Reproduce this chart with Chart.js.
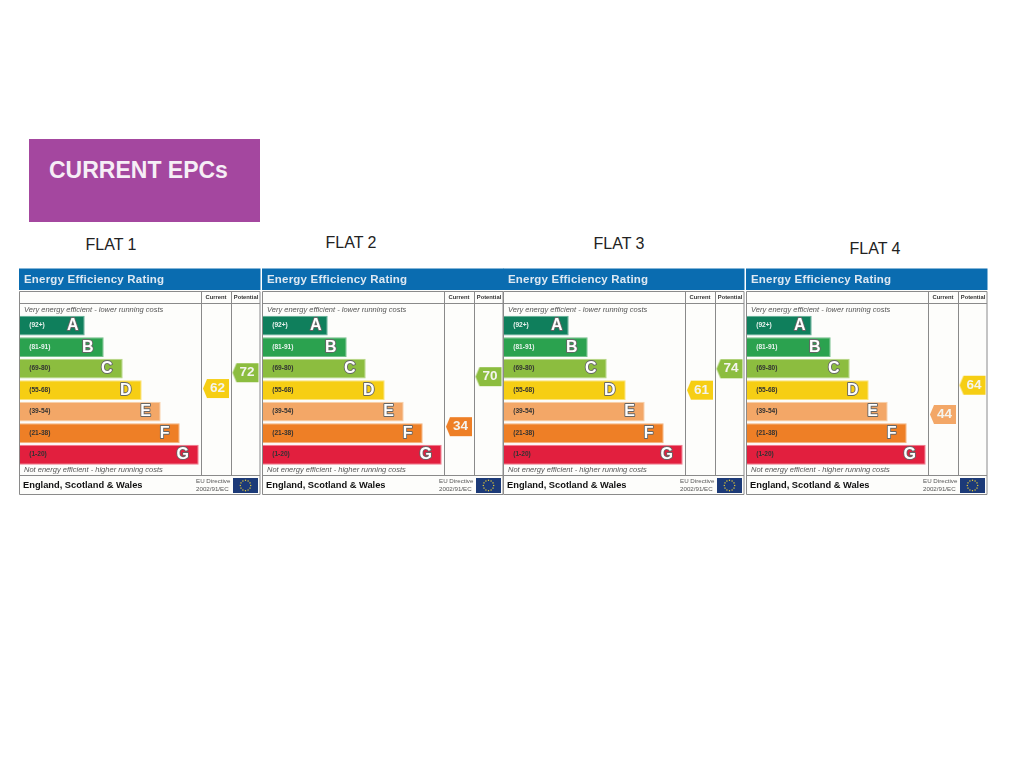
<!DOCTYPE html>
<html><head><meta charset="utf-8">
<style>
html,body{margin:0;padding:0;background:#fff;width:1024px;height:777px;overflow:hidden;font-family:"Liberation Sans",Arial,sans-serif}
#title{position:absolute;left:29px;top:139px;width:231px;height:83px;background:#a4479f;color:#f6eef6;font-weight:bold;font-size:23px;line-height:62px;padding-left:20px;box-sizing:border-box}
.flat{position:absolute;font-size:16px;color:#222;transform:translate(-50%,-50%);white-space:nowrap}
canvas{position:absolute}
</style>
<script src="https://cdn.jsdelivr.net/npm/chart.js@4/dist/chart.umd.min.js"></script>
</head><body>
<div id="title">CURRENT EPCs</div>
<script>
const flats = ["FLAT 1","FLAT 2","FLAT 3","FLAT 4"];
const bandRanges = ["(92+)","(81-91)","(69-80)","(55-68)","(39-54)","(21-38)","(1-20)"];
const bandLetters = ["A","B","C","D","E","F","G"];
const bandLengths = [65,84,103,122,141,160,179];
const bandTops = [100,91,80,68,54,38,20];
const bandBottoms = [92,81,69,55,39,21,1];
const bandColors = ["#0f7f5c","#2ba24f","#8cbd3f","#f6ce14","#f3a767","#ee7f26","#e21f3e"];
const bandEdges = ["#5fae93","#74c08a","#b5d585","#fae37a","#f8cfa8","#f5b27c","#ef7a8c"];
const rangeTextColors = ["#e8f2ee","#e8f2ee","#333","#333","#333","#333","#333"];
const letterInsets = [12,16,16,16,15,15,16];
const currentScores = [62,34,61,44];
const potentialScores = [72,70,74,64];

const flatLabelPos = [[111,245],[351,242.5],[619,243.5],[875,249]];
const panelLeft = [19,262,503,746];
const panelDy = [0,0,0.6,0];
const PW = 242, PH = 228, PTOP = 267.5;
const rowsTop = 314.4, rowsBottom = 465;
const COL_CUR = 196.3, COL_POT = 225.8; // x-units of the two score columns
const LINE = "#8a8a8a";

flats.forEach((t,i)=>{
  const d=document.createElement('div');d.className='flat';d.textContent=t;
  d.style.left=flatLabelPos[i][0]+'px';d.style.top=flatLabelPos[i][1]+'px';
  document.body.appendChild(d);
});

function bandIndex(score){ return bandTops.findIndex((top,k)=>score>=bandBottoms[k]&&score<=top); }
function rowPosition(score){
  const k=bandIndex(score);
  const frac=(bandTops[k]-score)/(bandTops[k]-bandBottoms[k]);
  return k-0.5+frac;
}
function arrowImage(score){
  const c=document.createElement('canvas');c.width=28;c.height=21;
  const g=c.getContext('2d');
  g.fillStyle=bandColors[bandIndex(score)];
  g.beginPath();g.moveTo(1,10.5);g.lineTo(5,1);g.lineTo(27,1);g.lineTo(27,20);g.lineTo(5,20);g.closePath();g.fill();
  return c;
}
const frame={id:'frame',beforeDraw(ch){
  const g=ch.ctx,W=PW;
  g.save();
  g.fillStyle='#fdfdfb';g.fillRect(0.5,22,W-2,205);
  g.fillStyle='#0a6cb0';g.fillRect(0,0.5,W-0.5,21.5);
  g.fillStyle='#dfe9f2';g.font='bold 11.5px "Liberation Sans"';g.textAlign='left';g.textBaseline='middle';
  g.letterSpacing='0.2px';g.fillText('Energy Efficiency Rating',5,11.5);g.letterSpacing='0px';
  g.strokeStyle=LINE;g.lineWidth=1;g.beginPath();
  [[0.5,23.5,W-1,23.5],[0.5,35.5,W-1,35.5],[0.5,207.5,W-1,207.5],[0.5,226.5,W-1,226.5],
   [0.5,23.5,0.5,226.5],[W-1,23.5,W-1,226.5],[182.5,23.5,182.5,207.5],[212.5,23.5,212.5,207.5]]
   .forEach(l=>{g.moveTo(l[0],l[1]);g.lineTo(l[2],l[3]);});
  g.stroke();
  g.fillStyle='#333';g.font='bold 5.8px "Liberation Sans"';g.textAlign='center';
  g.fillText('Current',197,29.8);g.fillText('Potential',227,29.8);
  g.fillStyle='#555';g.font='italic 7.5px "Liberation Sans"';g.textAlign='left';
  g.fillText('Very energy efficient - lower running costs',5,41.5);
  g.fillText('Not energy efficient - higher running costs',5,201.5);
  g.fillStyle='#111';g.font='bold 9.3px "Liberation Sans"';
  g.fillText('England, Scotland & Wales',4,217.5);
  g.fillStyle='#555';g.font='6.2px "Liberation Sans"';
  g.fillText('EU Directive',177,213.5);g.fillText('2002/91/EC',177,221);
  g.fillStyle='#1c3a78';g.fillRect(214,210,25,15);
  g.fillStyle='#f0d432';
  for(let s=0;s<12;s++){const a=s*Math.PI/6;g.fillRect(226.5+Math.cos(a)*5.2-0.6,217.5+Math.sin(a)*5.2-0.6,1.2,1.2);}
  g.restore();
}};
const marks={id:'marks',afterDatasetsDraw(ch){
  const g=ch.ctx,xs=ch.scales.x,ys=ch.scales.y,yr=ch.scales.yRow;
  g.save();g.textAlign='center';g.textBaseline='middle';
  bandLetters.forEach((l,k)=>{
    const px=xs.getPixelForValue(bandLengths[k])-letterInsets[k],py=ys.getPixelForValue(k)+0.2;
    g.font='bold 16px "Liberation Sans"';g.lineWidth=1.8;g.lineJoin='round';g.strokeStyle='#666';
    g.strokeText(l,px,py);g.fillStyle='#fff';g.fillText(l,px,py);
    g.textAlign='left';g.font='bold 6.6px "Liberation Sans"';g.fillStyle=rangeTextColors[k];
    g.fillText(bandRanges[k],xs.getPixelForValue(9.5),py-0.5);
    g.textAlign='center';
  });
  g.font='bold 13.5px "Liberation Sans"';g.fillStyle='#f4f4ee';
  ch.data.datasets[1].data.forEach(p=>{g.fillText(String(p.score),xs.getPixelForValue(p.x)+1.5,yr.getPixelForValue(p.y)-0.3);});
  g.restore();
}};
flats.forEach((t,i)=>{
  const c=document.createElement('canvas');
  c.style.left=panelLeft[i]+'px';c.style.top=(PTOP+panelDy[i])+'px';
  c.style.width=PW+'px';c.style.height=PH+'px';c.width=PW;c.height=PH;
  document.body.appendChild(c);
  const pts=[{x:COL_CUR,y:rowPosition(currentScores[i])-0.04,score:currentScores[i]},
             {x:COL_POT,y:rowPosition(potentialScores[i])-0.04,score:potentialScores[i]}];
  new Chart(c,{
    data:{labels:bandRanges,datasets:[
      {type:'bar',indexAxis:'y',data:bandLengths,xAxisID:'x',yAxisID:'y',
       backgroundColor:bandColors,borderColor:bandEdges,borderWidth:1,
       barPercentage:0.92,categoryPercentage:1,order:2},
      {type:'scatter',data:pts,xAxisID:'x',yAxisID:'yRow',clip:false,order:1,
       pointStyle:pts.map(p=>arrowImage(p.score)),pointRadius:10}
    ]},
    options:{responsive:false,animation:false,devicePixelRatio:1,
      layout:{autoPadding:false,padding:{left:0.7,right:0.8,top:rowsTop-PTOP,bottom:PTOP+PH-rowsBottom}},
      plugins:{legend:{display:false},tooltip:{enabled:false}},
      scales:{
        x:{type:'linear',display:false,min:0,max:240.5,offset:false},
        y:{type:'category',display:false,offset:true},
        yRow:{type:'linear',display:false,reverse:true,min:-0.5,max:6.5}
      }},
    plugins:[frame,marks]
  });
});
</script>
</body></html>
